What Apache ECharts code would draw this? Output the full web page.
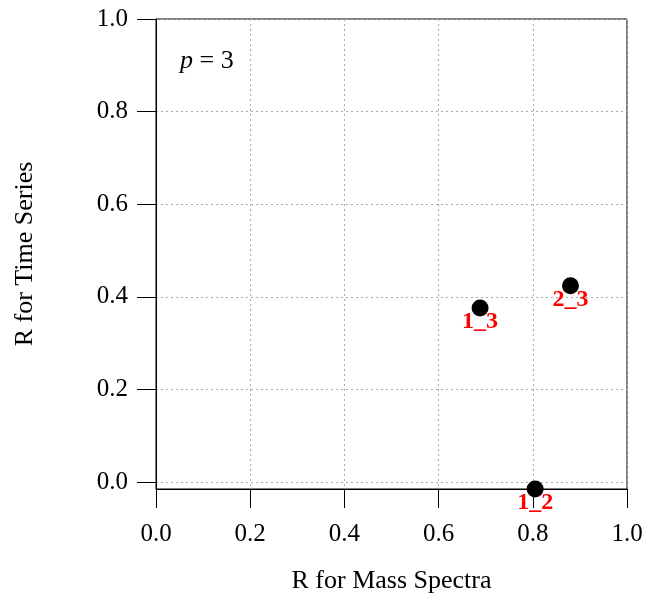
<!DOCTYPE html>
<html>
	<head>
		<meta charset="utf-8" />
		<title></title>
		<script src="https://cdn.jsdelivr.net/npm/echarts@6/dist/echarts.min.js"></script>
	</head>
	<body style="margin:0">
		<div id="main" style="width: 647px;height:599px;"></div>
		<script>
			// 数据
			var pairNames = ['1_2', '1_3', '2_3'];
			var massR = [0.805, 0.688, 0.880];
			var timeR = [-0.015, 0.376, 0.424];
			var tickVals = [0, 0.2, 0.4, 0.6, 0.8, 1.0];

			var points = [];
			pairNames.forEach(function (n, i) {
				points.push({ name: n, value: [massR[i], timeR[i]] });
			});

			var serif = '"Liberation Serif", "Times New Roman", serif';
			var mycharts = echarts.init(document.getElementById('main'));
			var option = {
				animation: false,
				textStyle: { fontFamily: serif },
				grid: {
					left: 156, right: 20, top: 19, bottom: 110,
					show: true, borderColor: '#000', borderWidth: 1
				},
				xAxis: {
					type: 'value',
					min: 0, max: 1, interval: 0.2,
					name: 'R for Mass Spectra',
					nameLocation: 'middle',
					nameGap: 79,
					nameTextStyle: { fontSize: 26, color: '#000', fontFamily: serif },
					axisLine: { show: true, onZero: false, lineStyle: { color: '#000' } },
					axisTick: { show: true, length: 19, lineStyle: { color: '#000' } },
					axisLabel: {
						margin: 33, fontSize: 25, color: '#000', fontFamily: serif,
						formatter: function (v) { return v.toFixed(1); }
					},
					splitLine: { show: true, lineStyle: { color: '#aaa', type: [2, 3] } }
				},
				yAxis: {
					type: 'value',
					min: -0.015, max: 1,
					name: 'R for Time Series',
					nameLocation: 'middle',
					nameGap: 118,
					nameTextStyle: { fontSize: 26, color: '#000', fontFamily: serif },
					axisLine: { show: true, onZero: false, lineStyle: { color: '#000' } },
					axisTick: { show: true, length: 19, customValues: tickVals, lineStyle: { color: '#000' } },
					axisLabel: {
						margin: 28, fontSize: 25, color: '#000', fontFamily: serif,
						customValues: tickVals,
						formatter: function (v) { return v.toFixed(1); }
					},
					splitLine: { show: true, lineStyle: { color: '#aaa', type: [2, 3] } }
				},
				graphic: [{
					type: 'text',
					left: 180, top: 48,
					style: {
						text: '{i|p} = 3',
						font: '26px ' + serif,
						fill: '#000',
						rich: { i: { fontStyle: 'italic', fontSize: 26, fontFamily: serif } }
					}
				}],
				series: [{
					type: 'scatter',
					data: points,
					symbolSize: 17,
					itemStyle: { color: '#000', opacity: 1 },
					label: {
						show: true,
						position: 'inside',
						offset: [0, 14],
						formatter: '{b}',
						color: '#ff0000',
						fontWeight: 'bold',
						fontSize: 24,
						fontFamily: serif
					}
				}]
			};
			mycharts.setOption(option);
		</script>
	</body>
</html>
